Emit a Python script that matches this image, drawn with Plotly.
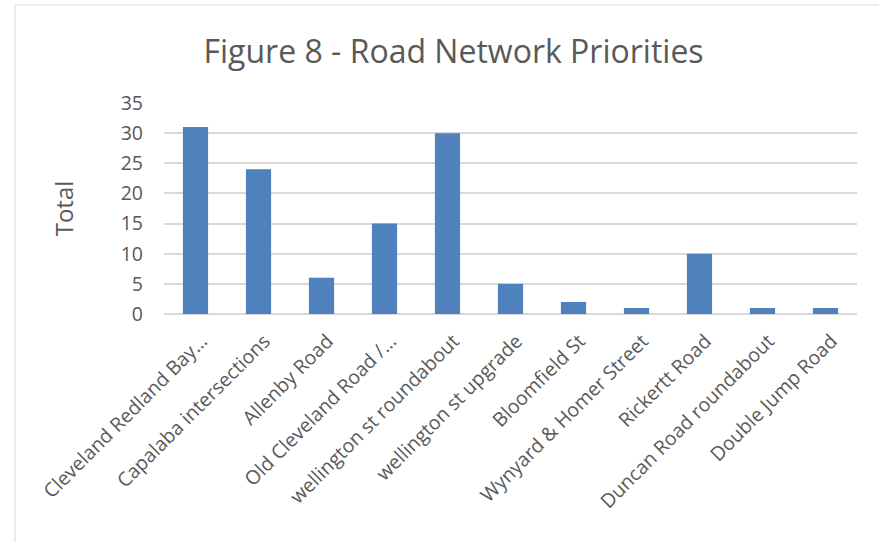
import plotly.graph_objects as go

# Road network priority votes
roads = [
    "Cleveland Redland Bay…",
    "Capalaba intersections",
    "Allenby Road",
    "Old Cleveland Road /…",
    "wellington st roundabout",
    "wellington st upgrade",
    "Bloomfield St",
    "Wynyard & Homer Street",
    "Rickertt Road",
    "Duncan Road roundabout",
    "Double Jump Road",
]
totals = [31, 24, 6, 15, 30, 5, 2, 1, 10, 1, 1]
y_ticks = [0, 5, 10, 15, 20, 25, 30, 35]

text_color = "#595959"
grid_color = "#d9d9d9"
bar_color = "#4f81bd"

fig = go.Figure(
    go.Bar(
        x=roads,
        y=totals,
        marker=dict(color=bar_color, line=dict(width=0)),
    )
)

fig.update_layout(
    width=879,
    height=542,
    margin=dict(l=164, r=22, t=103, b=228),
    paper_bgcolor="white",
    plot_bgcolor="white",
    bargap=0.6,
    showlegend=False,
    font=dict(family="Open Sans", color=text_color),
    title=dict(
        text="Figure 8 - Road Network Priorities",
        x=0.516,
        xanchor="center",
        y=0.905,
        yanchor="middle",
        font=dict(size=32, color=text_color, family="Open Sans"),
    ),
    xaxis=dict(
        tickangle=-45,
        tickfont=dict(size=19.5, color=text_color),
        showgrid=False,
        showline=False,
        ticks="",
        ticklabelstandoff=11,
        ticklabelshift=6,
    ),
    yaxis=dict(
        range=[0, 35],
        tickvals=y_ticks,
        tickfont=dict(size=19.5, color=text_color),
        showgrid=True,
        gridcolor=grid_color,
        gridwidth=1.5,
        zeroline=True,
        zerolinecolor=grid_color,
        zerolinewidth=1.5,
        ticks="",
        ticklabelstandoff=20,
        title=dict(text="Total", font=dict(size=24, color=text_color), standoff=40),
    ),
    shapes=[
        dict(
            type="rect",
            xref="paper",
            yref="paper",
            x0=(15 - 164) / 693,
            x1=(882 - 164) / 693,
            y0=(314 - 548) / 211,
            y1=(314 - 5) / 211,
            line=dict(color="#d9d9d9", width=1),
            fillcolor="rgba(0,0,0,0)",
            layer="below",
        )
    ],
)

fig.write_html("out.html")
